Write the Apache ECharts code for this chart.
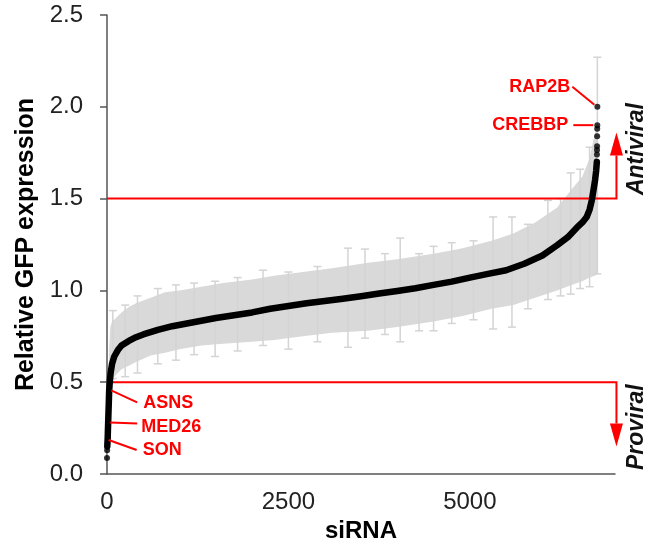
<!DOCTYPE html>
<html lang="en">
<head>
<meta charset="utf-8">
<title>siRNA screen</title>
<script src="https://cdn.jsdelivr.net/npm/echarts@6/dist/echarts.min.js"></script>
<style>
html, body { margin: 0; padding: 0; background: #fff; }
#chart { width: 648px; height: 543px; }
</style>
</head>
<body>
<div id="chart"></div>
<script>
// ranked knockdown results: rank -> mean relative GFP
var curveRank  = [4, 6, 9, 12, 16, 20, 25, 30, 38, 50, 70, 100, 150, 200, 300, 400, 500, 700, 900, 1100,
                  1300, 1500, 1750, 2000, 2250, 2500, 2750, 3000, 3250, 3500, 3750, 4000, 4250, 4500, 4750, 5000,
                  5250, 5500, 5750, 6000, 6200, 6350, 6470, 6550, 6610, 6650, 6680, 6705, 6725, 6740, 6750];
var curveValue = [0.15, 0.17, 0.19, 0.23, 0.28, 0.33, 0.39, 0.455, 0.50, 0.55, 0.60, 0.64, 0.675, 0.70, 0.725, 0.745, 0.76, 0.785, 0.805, 0.82,
                  0.835, 0.85, 0.865, 0.88, 0.90, 0.915, 0.93, 0.942, 0.955, 0.968, 0.983, 0.997, 1.012, 1.03, 1.048, 1.07,
                  1.09, 1.11, 1.145, 1.19, 1.245, 1.29, 1.34, 1.37, 1.40, 1.44, 1.49, 1.55, 1.60, 1.65, 1.70];

// separated points at both ends
var dotRank  = [0, 2, 6751, 6752, 6753, 6754, 6755, 6756, 6757];
var dotValue = [0.087, 0.13, 1.74, 1.765, 1.785, 1.84, 1.88, 1.90, 2.00];

// spread of the error bars (envelope)
var bandRank = [0, 10, 20, 30, 45, 70, 100, 150, 200, 300, 400, 600, 800, 1000, 1300, 1600, 2000, 2300, 2700,
                3100, 3600, 4000, 4500, 4900, 5300, 5600, 5900, 6200, 6400, 6550, 6650, 6720, 6760];
var bandLow  = [0.05, 0.15, 0.28, 0.38, 0.44, 0.50, 0.53, 0.55, 0.57, 0.59, 0.61, 0.645, 0.66, 0.68, 0.70, 0.71, 0.72, 0.73, 0.75,
                0.77, 0.78, 0.80, 0.83, 0.86, 0.90, 0.92, 0.96, 1.00, 1.03, 1.05, 1.07, 1.08, 1.09];
var bandHigh = [0.13, 0.26, 0.50, 0.68, 0.80, 0.83, 0.84, 0.86, 0.88, 0.91, 0.93, 0.96, 0.99, 1.00, 1.02, 1.04, 1.06, 1.08, 1.10,
                1.12, 1.15, 1.17, 1.20, 1.23, 1.27, 1.31, 1.37, 1.45, 1.55, 1.62, 1.72, 1.85, 1.90];

// single error bars that stick out of the envelope
var spikeRank = [80, 250, 420, 700, 950, 1200, 1490, 1800, 2150, 2500, 2900, 3320, 3555, 3830, 4040, 4300,
                 4500, 4750, 5050, 5320, 5580, 5800, 6075, 6250, 6390, 6520, 6650, 6757];
var spikeLow  = [0.52, 0.53, 0.55, 0.60, 0.62, 0.65, 0.64, 0.67, 0.70, 0.68, 0.72, 0.69, 0.74, 0.76, 0.72, 0.78,
                 0.78, 0.82, 0.84, 0.79, 0.80, 0.90, 0.95, 0.97, 0.98, 1.01, 1.02, 1.09];
var spikeHigh = [0.89, 0.92, 0.97, 1.01, 1.03, 1.04, 1.05, 1.07, 1.11, 1.10, 1.13, 1.23, 1.225, 1.20, 1.285, 1.20,
                 1.24, 1.26, 1.27, 1.40, 1.40, 1.36, 1.49, 1.50, 1.64, 1.66, 1.78, 2.27];

// named hits
var hitNames = ['RAP2B', 'CREBBP', 'ASNS', 'MED26', 'SON'];
var hitRank  = [6757, 6756, 30, 16, 9];
var hitValue = [2.00, 1.90, 0.455, 0.28, 0.185];

// cut-offs
var cutNames = ['Antiviral', 'Proviral'];
var cutValue = [1.5, 0.5];
var cutTip   = [1.86, 0.15];
var cutLabelY = [1.77, 0.255];

var xTicks = [0, 2500, 5000];

var FONT = '"Liberation Sans", Arial, sans-serif';
var RED = '#ff0000';

// label placement for the hits (pixels from the point)
var hitLayout = {
    RAP2B:  { from: [-3, -2], to: [-25, -20], text: [-27, -20], align: 'right' },
    CREBBP: { from: [-4, 0],  to: [-24, 0],   text: [-29, 0],   align: 'right' },
    ASNS:   { from: [2, 0],   to: [28, 12],   text: [34, 13],   align: 'left' },
    MED26:  { from: [2, 0],   to: [29, 1],    text: [33, 4],    align: 'left' },
    SON:    { from: [1, 0],   to: [29, 10],   text: [35, 10],   align: 'left' }
};
var X_END = 7020;

var chart = echarts.init(document.getElementById('chart'));

var option = {
    animation: false,
    textStyle: { fontFamily: FONT },
    grid: { left: 107, right: 33, top: 15, bottom: 69, outerBoundsMode: 'none', containLabel: false },
    xAxis: {
        type: 'value',
        min: 0,
        max: 7000,
        interval: 2500,
        name: 'siRNA',
        nameLocation: 'middle',
        nameGap: 45,
        nameTextStyle: { fontSize: 24, fontWeight: 'bold', color: '#000', fontFamily: FONT },
        axisLine: { lineStyle: { color: '#555', width: 1.5 } },
        axisTick: { show: false },
        splitLine: { show: false },
        axisLabel: {
            fontSize: 24, color: '#222', margin: 16, showMaxLabel: false,
            formatter: function (v) { return xTicks.indexOf(v) >= 0 ? String(v) : ''; }
        }
    },
    yAxis: {
        type: 'value',
        min: 0,
        max: 2.5,
        interval: 0.5,
        name: 'Relative GFP expression',
        nameLocation: 'middle',
        nameGap: 64,
        nameTextStyle: { fontSize: 25, fontWeight: 'bold', color: '#000', fontFamily: FONT },
        axisLine: { show: true, lineStyle: { color: '#555', width: 1.5 } },
        axisTick: { show: true, length: 7, lineStyle: { color: '#555', width: 1.5 } },
        splitLine: { show: false },
        axisLabel: {
            fontSize: 24, color: '#222', margin: 24,
            formatter: function (v) { return v.toFixed(1); }
        }
    },
    series: [
        {
            // error bar envelope
            type: 'custom',
            z: 1,
            silent: true,
            data: [[bandRank[0], bandLow[0]]],
            renderItem: function (params, api) {
                var pts = [];
                for (var i = 0; i < bandRank.length; i++) pts.push(api.coord([bandRank[i], bandHigh[i]]));
                for (var j = bandRank.length - 1; j >= 0; j--) pts.push(api.coord([bandRank[j], bandLow[j]]));
                return { type: 'polygon', shape: { points: pts }, style: { fill: '#d9d9d9' } };
            }
        },
        {
            // protruding error bars
            type: 'custom',
            z: 2,
            silent: true,
            encode: { x: 0, y: [1, 2] },
            data: spikeRank.map(function (r, i) { return [r, spikeLow[i], spikeHigh[i]]; }),
            renderItem: function (params, api) {
                var lo = api.coord([api.value(0), api.value(1)]);
                var hi = api.coord([api.value(0), api.value(2)]);
                var st = { stroke: '#d4d4d4', lineWidth: 1.5 };
                return {
                    type: 'group',
                    children: [
                        { type: 'line', shape: { x1: lo[0], y1: lo[1], x2: hi[0], y2: hi[1] }, style: st },
                        { type: 'line', shape: { x1: lo[0] - 4, y1: lo[1], x2: lo[0] + 4, y2: lo[1] }, style: st },
                        { type: 'line', shape: { x1: hi[0] - 4, y1: hi[1], x2: hi[0] + 4, y2: hi[1] }, style: st }
                    ]
                };
            }
        },
        {
            // cut-off lines with arrows
            type: 'custom',
            z: 3,
            silent: true,
            clip: false,
            encode: { x: 0, y: [1, 2] },
            data: cutValue.map(function (v, i) { return [X_END, v, cutTip[i], i]; }),
            renderItem: function (params, api) {
                var i = api.value(3);
                var p0 = api.coord([0, api.value(1)]);
                var p1 = api.coord([X_END, api.value(1)]);
                var tip = api.coord([X_END, api.value(2)]);
                var dir = tip[1] < p1[1] ? 1 : -1;
                var base = tip[1] + dir * 23;
                var lab = api.coord([X_END, cutLabelY[i]]);
                return {
                    type: 'group',
                    children: [
                        { type: 'polyline', shape: { points: [p0, p1, [p1[0], base]] },
                          style: { stroke: RED, lineWidth: 2, fill: null } },
                        { type: 'polygon', shape: { points: [[tip[0], tip[1]], [tip[0] - 6.5, base], [tip[0] + 6.5, base]] },
                          style: { fill: RED } },
                        { type: 'text', x: lab[0] + 20, y: lab[1], rotation: Math.PI / 2,
                          style: { text: cutNames[i], fontSize: 23, fontStyle: 'italic', fontWeight: 'bold', fontFamily: FONT,
                                   fill: '#111', align: 'center', verticalAlign: 'middle' } }
                    ]
                };
            }
        },
        {
            type: 'line',
            z: 4,
            silent: true,
            showSymbol: false,
            data: curveRank.map(function (r, i) { return [r, curveValue[i]]; }),
            lineStyle: { color: '#000', width: 6.5, cap: 'round', join: 'round' }
        },
        {
            type: 'scatter',
            z: 4,
            silent: true,
            symbolSize: 6,
            itemStyle: { color: '#000' },
            data: dotRank.map(function (r, i) { return [r, dotValue[i]]; })
        },
        {
            // named hits
            type: 'custom',
            z: 5,
            silent: true,
            clip: false,
            data: hitRank.map(function (r, i) { return [r, hitValue[i], i]; }),
            renderItem: function (params, api) {
                var name = hitNames[api.value(2)];
                var lay = hitLayout[name];
                var p = api.coord([api.value(0), api.value(1)]);
                return {
                    type: 'group',
                    children: [
                        { type: 'line',
                          shape: { x1: p[0] + lay.from[0], y1: p[1] + lay.from[1], x2: p[0] + lay.to[0], y2: p[1] + lay.to[1] },
                          style: { stroke: RED, lineWidth: 2 } },
                        { type: 'text', x: p[0] + lay.text[0], y: p[1] + lay.text[1],
                          style: { text: name, fontSize: 18, fontWeight: 'bold', fontFamily: FONT,
                                   fill: RED, align: lay.align, verticalAlign: 'middle' } }
                    ]
                };
            }
        }
    ]
};

chart.setOption(option);
</script>
</body>
</html>
